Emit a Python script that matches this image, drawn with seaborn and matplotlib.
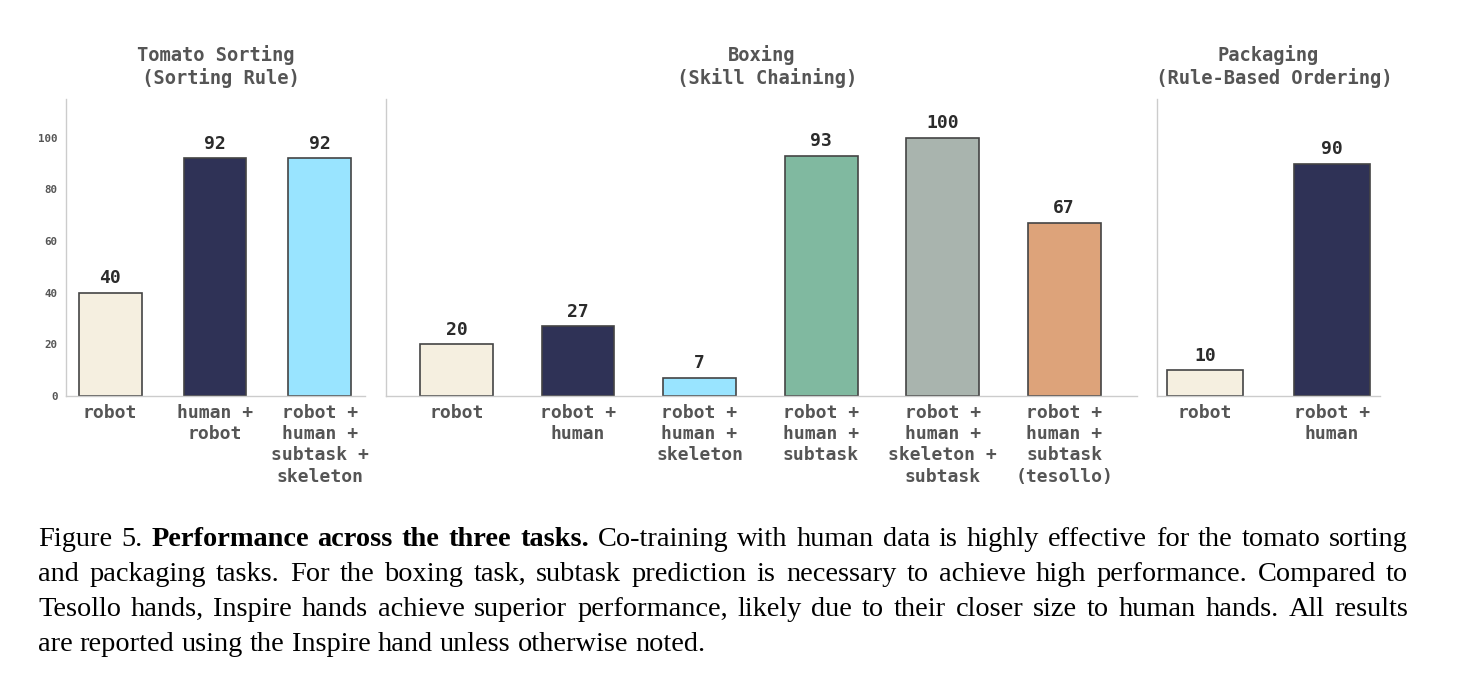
import matplotlib
matplotlib.use("Agg")
import matplotlib.pyplot as plt
import seaborn as sns

# ---------------- data ----------------
tomato_labels = ["robot", "human +\nrobot", "robot +\nhuman +\nsubtask +\nskeleton"]
tomato_values = [40, 92, 92]
boxing_labels = ["robot", "robot +\nhuman", "robot +\nhuman +\nskeleton", "robot +\nhuman +\nsubtask",
                 "robot +\nhuman +\nskeleton +\nsubtask", "robot +\nhuman +\nsubtask\n(tesollo)"]
boxing_values = [20, 27, 7, 93, 100, 67]
packaging_labels = ["robot", "robot +\nhuman"]
packaging_values = [10, 90]
titles = ["Tomato Sorting\n (Sorting Rule)", "Boxing\n (Skill Chaining)", "Packaging\n (Rule-Based Ordering)"]
yticks = [0, 20, 40, 60, 80, 100]

palette_all = ["#F5EFE0", "#2F3256", "#99E4FF", "#80B9A0", "#A9B4AE", "#DDA37A"]

caption_lines = [
    [("Figure 5.", "normal"), ("Performance across the three tasks.", "bold"),
     ("Co-training with human data is highly effective for the tomato sorting", "normal")],
    [("and packaging tasks.  For the boxing task, subtask prediction is necessary to achieve high performance.  Compared to", "normal")],
    [("Tesollo hands, Inspire hands achieve superior performance, likely due to their closer size to human hands.  All results", "normal")],
    [("are reported using the Inspire hand unless otherwise noted.", "normal")],
]

# ---------------- style ----------------
sns.set_theme(style="white")
plt.rcParams["font.family"] = ["DejaVu Sans Mono"]

W, H = 1457, 695
fig = plt.figure(figsize=(W / 100, H / 100), dpi=100)

def px_axes(l, r, t, b):
    return fig.add_axes([l / W, 1 - b / H, (r - l) / W, (b - t) / H])

specs = [
    (tomato_labels, tomato_values, (66, 365), (-0.42, 2.43)),
    (boxing_labels, boxing_values, (386, 1137), (-0.58, 5.6)),
    (packaging_labels, packaging_values, (1157, 1380), (-0.38, 1.38)),
]

text_gray = "#555555"
for i, (labels, values, (l, r), xl) in enumerate(specs):
    ax = px_axes(l, r, 99, 396)
    sns.barplot(x=labels, y=values, hue=labels, palette=palette_all[:len(labels)],
                ax=ax, legend=False, width=0.6, edgecolor="#444444", linewidth=1.2,
                saturation=1)
    for c in ax.containers:
        ax.bar_label(c, padding=4, fontsize=13, fontweight="bold", color="#2b2b2b")
    ax.set_xlim(*xl)
    ax.set_ylim(0, 115)
    ax.set_title(titles[i], fontsize=13.5, fontweight="bold", color=text_gray, pad=11,
                 linespacing=1.15)
    ax.set_xlabel("")
    ax.set_ylabel("")
    for s in ["top", "right"]:
        ax.spines[s].set_visible(False)
    for s in ["left", "bottom"]:
        ax.spines[s].set_color("#cccccc")
        ax.spines[s].set_linewidth(1.0)
    ax.tick_params(axis="x", length=3, width=0.8, color="#555555", pad=3)
    for t in ax.get_xticklabels():
        t.set_fontsize(13)
        t.set_fontweight("bold")
        t.set_color(text_gray)
        t.set_linespacing(1.22)
    if i == 0:
        ax.set_yticks(yticks)
        ax.tick_params(axis="y", length=4, width=0.8, color="#555555", pad=2, labelsize=7.8)
        for t in ax.get_yticklabels():
            t.set_fontweight("bold")
            t.set_color(text_gray)
    else:
        ax.set_yticks([])

# ---------------- caption (justified) ----------------
renderer = fig.canvas.get_renderer()
x0, x1 = 38, 1408
baselines = [546, 581, 616, 651]
fs = 20.4
serif = ["Liberation Serif", "DejaVu Serif"]

for li, (line, base) in enumerate(zip(caption_lines, baselines)):
    words = []
    for seg, wt in line:
        for w in seg.split():
            words.append((w, wt))
    texts = []
    for w, wt in words:
        t = fig.text(0, 1 - base / H, w, fontsize=fs, fontweight=wt, family=serif,
                     va="baseline", ha="left", color="black")
        texts.append(t)
    widths = [t.get_window_extent(renderer).width for t in texts]
    total = sum(widths)
    if li < len(caption_lines) - 1:
        gap = (x1 - x0 - total) / (len(words) - 1)
    else:
        gap = fs * 0.25 * 100 / 72
    x = x0
    for t, wd in zip(texts, widths):
        t.set_x(x / W)
        x += wd + gap

fig.savefig("out.png", dpi=100)
